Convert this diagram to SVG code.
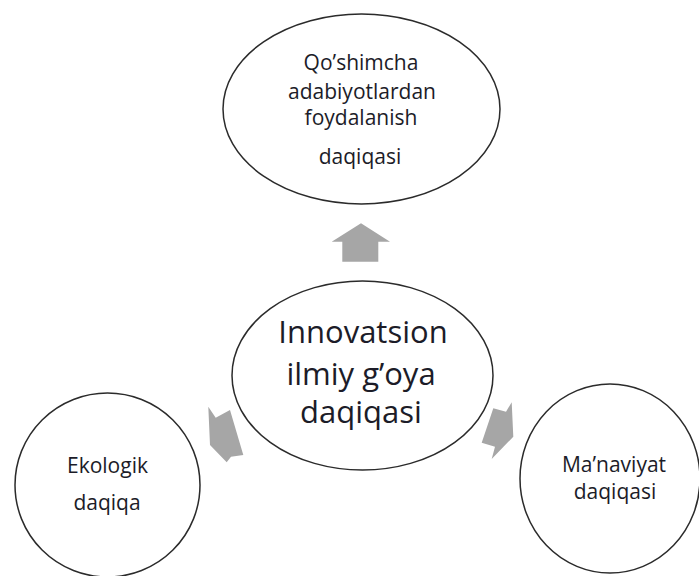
<svg xmlns="http://www.w3.org/2000/svg" width="699" height="576" viewBox="0 0 699 576">
<style>
.node{fill:#ffffff;stroke:#2b2b2b;stroke-width:1.5}
.t{font-family:"Open Sans","Noto Sans","DejaVu Sans",sans-serif;fill:#1c1c28;text-anchor:middle}
.s{font-size:21px}
.b{font-size:31px}
.arrow{fill:#a6a6a6;stroke:none}
</style>
<rect width="699" height="576" fill="#ffffff"/>
<g id="connectors">
<polygon class="arrow" points="361,223.3 390,241.7 378.3,241.7 378.3,261.7 342.3,261.7 342.3,241.7 331.7,241.7"/>
<polygon class="arrow" points="208.3,406.7 215.7,417.7 230,410 243.3,455 231,456.7 226.7,462.3 210,445"/>
<polygon class="arrow" points="493.3,408.3 506,411.7 511.7,402.3 513.3,436.7 491.7,459 495,446.7 481.7,442.7"/>
</g>
<g id="node-top">
<ellipse class="node" cx="361.5" cy="109" rx="138.5" ry="95"/>
<text class="t s" x="361" y="70">Qo’shimcha</text>
<text class="t s" x="362" y="98.5">adabiyotlardan</text>
<text class="t s" x="361" y="124.5">foydalanish</text>
<text class="t s" x="360" y="164">daqiqasi</text>
</g>
<g id="node-center">
<ellipse class="node" cx="362.5" cy="375.5" rx="130.5" ry="94.5"/>
<text class="t b" x="363" y="343">Innovatsion</text>
<text class="t b" x="361" y="385">ilmiy g’oya</text>
<text class="t b" x="361" y="423">daqiqasi</text>
</g>
<g id="node-left">
<ellipse class="node" cx="107.5" cy="485" rx="92.5" ry="92"/>
<text class="t s" x="107.5" y="473">Ekologik</text>
<text class="t s" x="107" y="510">daqiqa</text>
</g>
<g id="node-right">
<ellipse class="node" cx="610" cy="478.5" rx="90" ry="94.5"/>
<text class="t s" x="614" y="471.5">Ma’naviyat</text>
<text class="t s" x="615" y="498.5">daqiqasi</text>
</g>
</svg>
